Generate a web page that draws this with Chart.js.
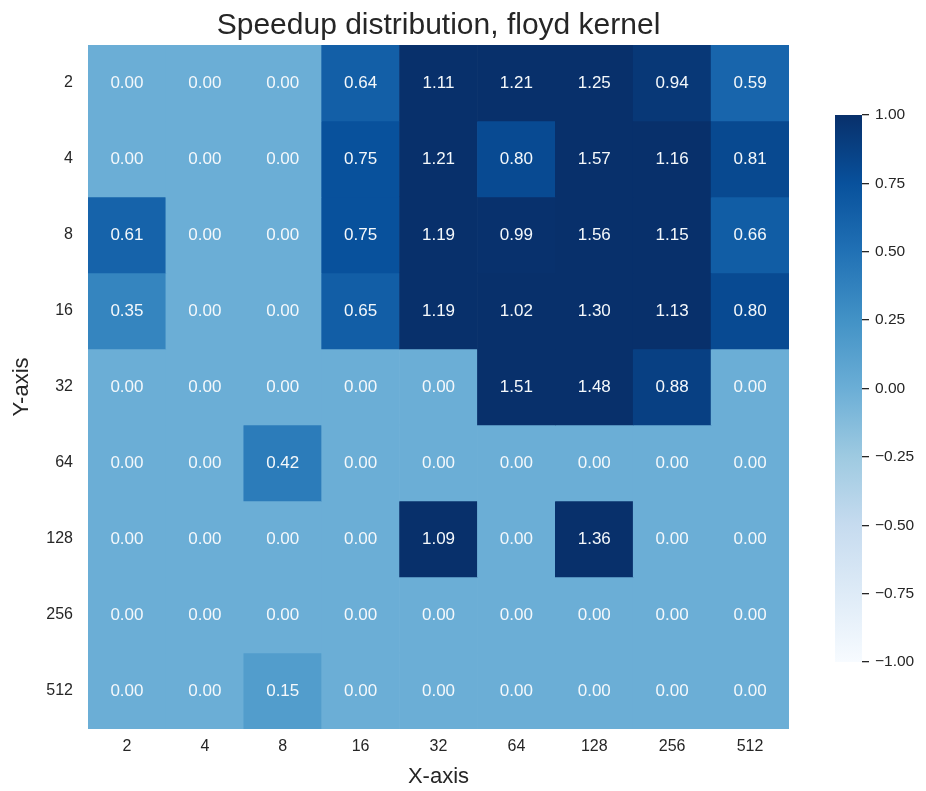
<!DOCTYPE html>
<html>
<head>
<meta charset="utf-8">
<title>Speedup distribution, floyd kernel</title>
<script src="https://cdn.jsdelivr.net/npm/chart.js@4.4.0/dist/chart.umd.min.js"></script>
<style>
    body { margin: 0; background: #ffffff; }
    #wrap { position: relative; width: 926px; height: 791px; }
    #heatmap { position: absolute; left: 0; top: 0; }
    #colorbar { position: absolute; left: 780px; top: 0; }
</style>
</head>
<body>
<div id="wrap">
    <canvas id="heatmap" width="926" height="791"></canvas>
    <canvas id="colorbar" width="146" height="791"></canvas>
</div>
<script>
// axis categories
const xLabels = ['2', '4', '8', '16', '32', '64', '128', '256', '512'];
const yLabels = ['2', '4', '8', '16', '32', '64', '128', '256', '512'];

// speedup per row (one row per Y value)
const row2   = [0.00, 0.00, 0.00, 0.64, 1.11, 1.21, 1.25, 0.94, 0.59];
const row4   = [0.00, 0.00, 0.00, 0.75, 1.21, 0.80, 1.57, 1.16, 0.81];
const row8   = [0.61, 0.00, 0.00, 0.75, 1.19, 0.99, 1.56, 1.15, 0.66];
const row16  = [0.35, 0.00, 0.00, 0.65, 1.19, 1.02, 1.30, 1.13, 0.80];
const row32  = [0.00, 0.00, 0.00, 0.00, 0.00, 1.51, 1.48, 0.88, 0.00];
const row64  = [0.00, 0.00, 0.42, 0.00, 0.00, 0.00, 0.00, 0.00, 0.00];
const row128 = [0.00, 0.00, 0.00, 0.00, 1.09, 0.00, 1.36, 0.00, 0.00];
const row256 = [0.00, 0.00, 0.00, 0.00, 0.00, 0.00, 0.00, 0.00, 0.00];
const row512 = [0.00, 0.00, 0.15, 0.00, 0.00, 0.00, 0.00, 0.00, 0.00];
const rows = [row2, row4, row8, row16, row32, row64, row128, row256, row512];

// colour scale limits and colorbar ticks
const vmin = -1;
const vmax = 1;
const cbarTicks = [-1, -0.75, -0.5, -0.25, 0, 0.25, 0.5, 0.75, 1];

// matplotlib "Blues"
const bluesStops = ['#f7fbff', '#deebf7', '#c6dbef', '#9ecae1', '#6baed6', '#4292c6', '#2171b5', '#08519c', '#08306b'];

const textColor = '#262626';
const fontFamily = '"Liberation Sans", Arial, sans-serif';

function hexToRgb(hex) {
    const n = parseInt(hex.slice(1), 16);
    return [(n >> 16) & 255, (n >> 8) & 255, n & 255];
}

function bluesColor(value) {
    let t = (value - vmin) / (vmax - vmin);
    t = Math.max(0, Math.min(1, t));
    const pos = t * (bluesStops.length - 1);
    const i = Math.min(Math.floor(pos), bluesStops.length - 2);
    const f = pos - i;
    const a = hexToRgb(bluesStops[i]);
    const b = hexToRgb(bluesStops[i + 1]);
    const c = a.map((v, k) => Math.round(v + (b[k] - v) * f));
    return `rgb(${c[0]}, ${c[1]}, ${c[2]})`;
}

// one floating-bar dataset per row, spanning [row, row + 1] on the y scale
const datasets = rows.map((values, r) => ({
    label: yLabels[r],
    data: values.map(() => [r, r + 1]),
    cellValues: values,
    backgroundColor: values.map(v => bluesColor(v)),
    borderWidth: 0,
    barPercentage: 1,
    categoryPercentage: 1,
    grouped: false,
}));

// writes the value in the middle of each cell
const cellLabels = {
    id: 'cellLabels',
    afterDatasetsDraw(chart) {
        const ctx = chart.ctx;
        ctx.save();
        ctx.fillStyle = '#f4f8fb';
        ctx.font = `17px ${fontFamily}`;
        ctx.textAlign = 'center';
        ctx.textBaseline = 'middle';
        chart.data.datasets.forEach((ds, i) => {
            const meta = chart.getDatasetMeta(i);
            meta.data.forEach((bar, j) => {
                const y = (bar.y + bar.base) / 2;
                ctx.fillText(ds.cellValues[j].toFixed(2), bar.x, y);
            });
        });
        ctx.restore();
    }
};

new Chart(document.getElementById('heatmap'), {
    type: 'bar',
    data: { labels: xLabels, datasets: datasets },
    options: {
        responsive: false,
        animation: false,
        devicePixelRatio: 1,
        layout: { padding: { left: 0, right: 137, top: 0, bottom: 0 } },
        plugins: {
            legend: { display: false },
            tooltip: { enabled: false },
            title: {
                display: true,
                fullSize: false,
                text: 'Speedup distribution, floyd kernel',
                color: textColor,
                font: { family: fontFamily, size: 30, weight: 'normal' },
                padding: { top: 8, bottom: 1 },
            },
        },
        scales: {
            x: {
                type: 'category',
                grid: { display: false, drawTicks: false },
                border: { display: false },
                ticks: { color: textColor, font: { family: fontFamily, size: 16 }, padding: 8, maxRotation: 0 },
                title: {
                    display: true,
                    text: 'X-axis',
                    color: textColor,
                    font: { family: fontFamily, size: 22 },
                    padding: { top: 0, bottom: 1 },
                },
                afterFit(scale) { scale.height = 62; },
            },
            y: {
                type: 'linear',
                min: 0,
                max: yLabels.length,
                reverse: true,
                grid: { display: false, drawTicks: false },
                border: { display: false },
                afterBuildTicks(scale) {
                    scale.ticks = yLabels.map((l, i) => ({ value: i + 0.5 }));
                },
                ticks: {
                    color: textColor,
                    font: { family: fontFamily, size: 16 },
                    padding: 15,
                    callback: (value) => yLabels[Math.floor(value)],
                },
                title: {
                    display: true,
                    text: 'Y-axis',
                    color: textColor,
                    font: { family: fontFamily, size: 22 },
                    padding: { top: 9, bottom: 0 },
                },
                afterFit(scale) { scale.width = 88; },
            },
        },
    },
    plugins: [cellLabels],
});

// colorbar: one floating bar from vmin to vmax filled with the Blues gradient
function colorbarFill(context) {
    const chart = context.chart;
    const yScale = chart.scales.y;
    if (!yScale || !chart.chartArea) return bluesStops[4];
    const y0 = yScale.getPixelForValue(vmin);
    const y1 = yScale.getPixelForValue(vmax);
    if (!Number.isFinite(y0) || !Number.isFinite(y1) || y0 === y1) return bluesStops[4];
    const grad = chart.ctx.createLinearGradient(0, y0, 0, y1);
    bluesStops.forEach((c, i) => grad.addColorStop(i / (bluesStops.length - 1), c));
    return grad;
}

new Chart(document.getElementById('colorbar'), {
    type: 'bar',
    data: {
        labels: [''],
        datasets: [{
            data: [[vmin, vmax]],
            backgroundColor: colorbarFill,
            borderWidth: 0,
            barPercentage: 1,
            categoryPercentage: 1,
        }],
    },
    options: {
        responsive: false,
        animation: false,
        devicePixelRatio: 1,
        layout: { padding: { left: 55, right: 0, top: 115, bottom: 129 } },
        plugins: { legend: { display: false }, tooltip: { enabled: false } },
        scales: {
            x: { display: false },
            y: {
                type: 'linear',
                position: 'right',
                min: vmin,
                max: vmax,
                afterBuildTicks(scale) {
                    scale.ticks = cbarTicks.map(v => ({ value: v }));
                },
                grid: { drawOnChartArea: false, drawTicks: true, tickLength: 7, tickColor: textColor, lineWidth: 1.3 },
                border: { display: false },
                ticks: {
                    color: textColor,
                    font: { family: fontFamily, size: 15.5 },
                    padding: 6,
                    callback: (value) => value.toFixed(2).replace('-', '\u2212'),
                },
                afterFit(scale) { scale.width = 64; },
            },
        },
    },
});
</script>
</body>
</html>
